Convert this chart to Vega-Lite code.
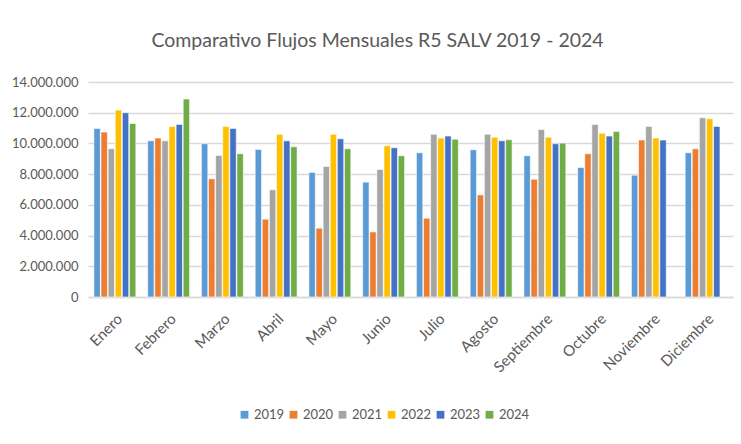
{
  "$schema": "https://vega.github.io/schema/vega-lite/v6.json",
  "autosize": "none",
  "width": 645,
  "height": 215,
  "padding": {"left": 88, "top": 82, "right": 8, "bottom": 147},
  "background": "white",
  "title": {
    "text": "Comparativo Flujos Mensuales R5 SALV  2019 - 2024",
    "font": "Lato",
    "fontSize": 19.5,
    "fontWeight": "normal",
    "color": "#595959",
    "anchor": "middle",
    "dx": -33,
    "offset": 25
  },
  "config": {
    "view": {"stroke": null},
    "font": "Lato"
  },
  "data": {
    "values": [
      {"mes": "Enero", "anio": "2019", "valor": 10980000},
      {"mes": "Enero", "anio": "2020", "valor": 10740000},
      {"mes": "Enero", "anio": "2021", "valor": 9650000},
      {"mes": "Enero", "anio": "2022", "valor": 12170000},
      {"mes": "Enero", "anio": "2023", "valor": 12000000},
      {"mes": "Enero", "anio": "2024", "valor": 11300000},
      {"mes": "Febrero", "anio": "2019", "valor": 10170000},
      {"mes": "Febrero", "anio": "2020", "valor": 10350000},
      {"mes": "Febrero", "anio": "2021", "valor": 10170000},
      {"mes": "Febrero", "anio": "2022", "valor": 11110000},
      {"mes": "Febrero", "anio": "2023", "valor": 11240000},
      {"mes": "Febrero", "anio": "2024", "valor": 12890000},
      {"mes": "Marzo", "anio": "2019", "valor": 9980000},
      {"mes": "Marzo", "anio": "2020", "valor": 7700000},
      {"mes": "Marzo", "anio": "2021", "valor": 9220000},
      {"mes": "Marzo", "anio": "2022", "valor": 11110000},
      {"mes": "Marzo", "anio": "2023", "valor": 10980000},
      {"mes": "Marzo", "anio": "2024", "valor": 9330000},
      {"mes": "Abril", "anio": "2019", "valor": 9610000},
      {"mes": "Abril", "anio": "2020", "valor": 5070000},
      {"mes": "Abril", "anio": "2021", "valor": 6980000},
      {"mes": "Abril", "anio": "2022", "valor": 10590000},
      {"mes": "Abril", "anio": "2023", "valor": 10170000},
      {"mes": "Abril", "anio": "2024", "valor": 9780000},
      {"mes": "Mayo", "anio": "2019", "valor": 8110000},
      {"mes": "Mayo", "anio": "2020", "valor": 4480000},
      {"mes": "Mayo", "anio": "2021", "valor": 8500000},
      {"mes": "Mayo", "anio": "2022", "valor": 10590000},
      {"mes": "Mayo", "anio": "2023", "valor": 10300000},
      {"mes": "Mayo", "anio": "2024", "valor": 9650000},
      {"mes": "Junio", "anio": "2019", "valor": 7480000},
      {"mes": "Junio", "anio": "2020", "valor": 4240000},
      {"mes": "Junio", "anio": "2021", "valor": 8300000},
      {"mes": "Junio", "anio": "2022", "valor": 9850000},
      {"mes": "Junio", "anio": "2023", "valor": 9720000},
      {"mes": "Junio", "anio": "2024", "valor": 9200000},
      {"mes": "Julio", "anio": "2019", "valor": 9390000},
      {"mes": "Julio", "anio": "2020", "valor": 5130000},
      {"mes": "Julio", "anio": "2021", "valor": 10590000},
      {"mes": "Julio", "anio": "2022", "valor": 10350000},
      {"mes": "Julio", "anio": "2023", "valor": 10480000},
      {"mes": "Julio", "anio": "2024", "valor": 10280000},
      {"mes": "Agosto", "anio": "2019", "valor": 9590000},
      {"mes": "Agosto", "anio": "2020", "valor": 6650000},
      {"mes": "Agosto", "anio": "2021", "valor": 10590000},
      {"mes": "Agosto", "anio": "2022", "valor": 10410000},
      {"mes": "Agosto", "anio": "2023", "valor": 10170000},
      {"mes": "Agosto", "anio": "2024", "valor": 10240000},
      {"mes": "Septiembre", "anio": "2019", "valor": 9200000},
      {"mes": "Septiembre", "anio": "2020", "valor": 7670000},
      {"mes": "Septiembre", "anio": "2021", "valor": 10910000},
      {"mes": "Septiembre", "anio": "2022", "valor": 10410000},
      {"mes": "Septiembre", "anio": "2023", "valor": 9980000},
      {"mes": "Septiembre", "anio": "2024", "valor": 10020000},
      {"mes": "Octubre", "anio": "2019", "valor": 8430000},
      {"mes": "Octubre", "anio": "2020", "valor": 9330000},
      {"mes": "Octubre", "anio": "2021", "valor": 11240000},
      {"mes": "Octubre", "anio": "2022", "valor": 10670000},
      {"mes": "Octubre", "anio": "2023", "valor": 10480000},
      {"mes": "Octubre", "anio": "2024", "valor": 10780000},
      {"mes": "Noviembre", "anio": "2019", "valor": 7930000},
      {"mes": "Noviembre", "anio": "2020", "valor": 10220000},
      {"mes": "Noviembre", "anio": "2021", "valor": 11110000},
      {"mes": "Noviembre", "anio": "2022", "valor": 10350000},
      {"mes": "Noviembre", "anio": "2023", "valor": 10220000},
      {"mes": "Diciembre", "anio": "2019", "valor": 9390000},
      {"mes": "Diciembre", "anio": "2020", "valor": 9650000},
      {"mes": "Diciembre", "anio": "2021", "valor": 11670000},
      {"mes": "Diciembre", "anio": "2022", "valor": 11610000},
      {"mes": "Diciembre", "anio": "2023", "valor": 11110000}
    ]
  },
  "mark": {"type": "bar", "stroke": "white", "strokeWidth": 0.6},
  "encoding": {
    "x": {
      "field": "mes",
      "type": "nominal",
      "sort": ["Enero","Febrero","Marzo","Abril","Mayo","Junio","Julio","Agosto","Septiembre","Octubre","Noviembre","Diciembre"],
      "scale": {"paddingInner": 0.22, "paddingOuter": 0.11},
      "axis": {
        "title": null,
        "labelAngle": -45,
        "labelFontSize": 15,
        "labelColor": "#595959",
        "labelPadding": 14,
        "ticks": false,
        "domainColor": "#D9D9D9",
        "domainWidth": 1.5,
        "grid": false
      }
    },
    "xOffset": {"field": "anio", "type": "nominal", "scale": {"paddingInner": 0.1}},
    "y": {
      "field": "valor",
      "type": "quantitative",
      "scale": {"domain": [0, 14000000], "nice": false},
      "axis": {
        "title": null,
        "values": [0, 2000000, 4000000, 6000000, 8000000, 10000000, 12000000, 14000000],
        "labelExpr": "replace(format(datum.value, ',d'), /,/g, '.')",
        "labelFontSize": 13,
        "labelColor": "#595959",
        "labelPadding": 10,
        "ticks": false,
        "domain": false,
        "gridColor": "#D9D9D9",
        "gridWidth": 1.5
      }
    },
    "color": {
      "field": "anio",
      "type": "nominal",
      "scale": {
        "domain": ["2019","2020","2021","2022","2023","2024"],
        "range": ["#5B9BD5","#ED7D31","#A5A5A5","#FFC000","#4472C4","#70AD47"]
      },
      "legend": {
        "title": null,
        "orient": "none",
        "direction": "horizontal",
        "legendX": 150,
        "legendY": 326,
        "symbolType": "square",
        "symbolSize": 60,
        "symbolStrokeWidth": 0,
        "labelFontSize": 13,
        "labelColor": "#595959",
        "labelOffset": 3,
        "columnPadding": 2
      }
    }
  }
}
